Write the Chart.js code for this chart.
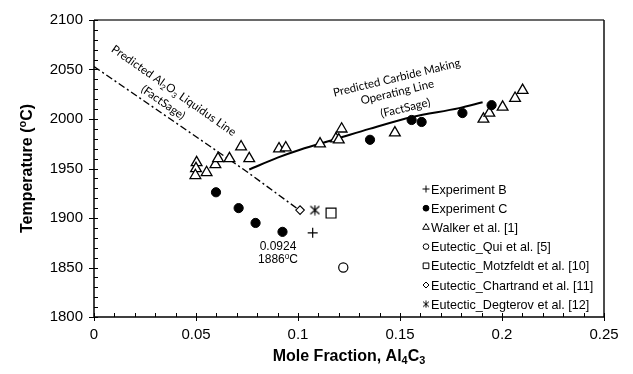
<!DOCTYPE html>
<html><head><meta charset="utf-8">
<script src="https://cdn.jsdelivr.net/npm/chart.js@4.4.1/dist/chart.umd.min.js"></script>
<style>html,body{margin:0;padding:0;background:#fff}#wrap{width:633px;height:374px}</style>
</head><body><div id="wrap"><canvas id="c" width="633" height="374"></canvas></div>
<script>
// ---- data ----
const expB_x = [0.1072];
const expB_y = [1885];
const expC_x = [0.0598, 0.0709, 0.0792, 0.0924, 0.1353, 0.1557, 0.1606, 0.1806, 0.1949];
const expC_y = [1926, 1910, 1895, 1886, 1979, 1999, 1997, 2006, 2014];
const walker_x = [0.0503, 0.0500, 0.0497, 0.0552, 0.0595, 0.0608, 0.0664, 0.0721, 0.0761, 0.0907, 0.0940, 0.1108, 0.1186, 0.1200, 0.1214, 0.1475, 0.1909, 0.1938, 0.2003, 0.2064, 0.2101];
const walker_y = [1956, 1950, 1943, 1946, 1954, 1960, 1960, 1972, 1960, 1970, 1971, 1975, 1980, 1979, 1990, 1986, 2000, 2006, 2012, 2021, 2029];
const qui_x = [0.1222];
const qui_y = [1850];
const motz_x = [0.1162];
const motz_y = [1905];
const chart_x = [0.1010];
const chart_y = [1908];
const degt_x = [0.1083];
const degt_y = [1908];
const liq_x = [0, 0.0748, 0.0993];
const liq_y = [2053, 1947, 1910];
const carb_x = [0.0761, 0.0900, 0.1010, 0.1190, 0.1350, 0.1560, 0.1790, 0.1905];
const carb_y = [1949, 1961, 1969, 1980, 1990, 2002, 2011, 2017];
const xTickVals = [0, 0.05, 0.1, 0.15, 0.2, 0.25];
const xTickLabels = ['0', '0.05', '0.1', '0.15', '0.2', '0.25'];
const yTickVals = [1800, 1850, 1900, 1950, 2000, 2050, 2100];
const yTickLabels = ['1800', '1850', '1900', '1950', '2000', '2050', '2100'];
const seriesNames = ['Experiment B', 'Experiment C', 'Walker et al. [1]', 'Eutectic_Qui et al. [5]',
  'Eutectic_Motzfeldt et al. [10]', 'Eutectic_Chartrand et al. [11]', 'Eutectic_Degterov et al. [12]'];

const pts = (xs, ys) => xs.map((v, i) => ({x: v, y: ys[i]}));

function asteriskImg(size, lw) {
  const c = document.createElement('canvas');
  c.width = c.height = size;
  const g = c.getContext('2d');
  g.strokeStyle = '#000'; g.lineWidth = lw;
  const m = size / 2;
  g.beginPath();
  g.moveTo(m, 0.5); g.lineTo(m, size - 0.5);
  g.moveTo(1, 1.5); g.lineTo(size - 1, size - 1.5);
  g.moveTo(size - 1, 1.5); g.lineTo(1, size - 1.5);
  g.stroke();
  return c;
}
const astBig = asteriskImg(11, 1.2);
const astSmall = asteriskImg(8, 1);

const SANS = '"Liberation Sans", Arial, sans-serif';
const CAL = 'Lato, "Open Sans", sans-serif';

function drawRich(ctx, parts, cx, cy, size, weight, family, align) {
  let w = 0;
  const segs = parts.map(p => {
    const s = (p.sub || p.sup) ? size * 0.68 : size;
    ctx.font = `${weight} ${s}px ${family}`;
    const m = ctx.measureText(p.t).width;
    w += m;
    return {p, s, m};
  });
  let x = align === 'left' ? cx : cx - w / 2;
  ctx.textAlign = 'left';
  ctx.textBaseline = 'alphabetic';
  const base = cy + size * 0.36;
  for (const g of segs) {
    ctx.font = `${weight} ${g.s}px ${family}`;
    let yy = base;
    if (g.p.sub) yy += size * 0.22;
    if (g.p.sup) yy -= size * 0.38;
    ctx.fillText(g.p.t, x, yy);
    x += g.m;
  }
  return w;
}

const notes = [
  {x: 0.0392, y: 2029, angle: 35, size: 11.5, parts: [{t: 'Predicted Al'}, {t: '2', sub: 1}, {t: 'O'}, {t: '3', sub: 1}, {t: ' Liquidus Line'}]},
  {x: 0.0340, y: 2017, angle: 35, size: 11.5, parts: [{t: '(FactSage)'}]},
  {x: 0.1484, y: 2042, angle: -13.5, size: 11.5, parts: [{t: 'Predicted Carbide Making'}]},
  {x: 0.1486, y: 2027.5, angle: -13.5, size: 11.5, parts: [{t: 'Operating Line'}]},
  {x: 0.1526, y: 2011.5, angle: -13.5, size: 11.5, parts: [{t: '(FactSage)'}]}
];

const legendStyles = [
  {pointStyle: 'cross', radius: 3.5, fill: false},
  {pointStyle: 'circle', radius: 2.9, fill: true},
  {pointStyle: 'triangle', radius: 3.8, fill: false},
  {pointStyle: 'circle', radius: 2.8, fill: false},
  {pointStyle: 'rect', radius: 4, fill: false},
  {pointStyle: 'rectRot', radius: 3, fill: false},
  {pointStyle: astSmall, radius: 4, fill: false}
];

const overlay = {
  id: 'overlay',
  afterDraw(chart) {
    const {ctx, chartArea: a, scales: {x, y}} = chart;
    ctx.save();
    // frame
    ctx.strokeStyle = '#6a6a6a'; ctx.lineWidth = 2;
    ctx.beginPath(); ctx.moveTo(a.left, a.top); ctx.lineTo(a.right, a.top); ctx.stroke();
    ctx.strokeStyle = '#111'; ctx.lineWidth = 1.5;
    ctx.beginPath(); ctx.moveTo(a.right, a.top); ctx.lineTo(a.right, a.bottom); ctx.stroke();
    // axes
    ctx.strokeStyle = '#000'; ctx.lineWidth = 1.5;
    ctx.beginPath(); ctx.moveTo(a.left, a.top); ctx.lineTo(a.left, a.bottom); ctx.lineTo(a.right, a.bottom); ctx.stroke();
    // ticks
    ctx.lineWidth = 1;
    ctx.beginPath();
    for (let k = 0; k <= 25; k++) {
      const px = Math.round(x.getPixelForValue(k * 0.01)) + 0.5;
      const major = k % 5 === 0;
      ctx.moveTo(px, a.bottom + (major ? 4 : 0));
      ctx.lineTo(px, a.bottom - 4);
    }
    for (let k = 0; k <= 30; k++) {
      const py = Math.round(y.getPixelForValue(1800 + k * 10)) + 0.5;
      const major = k % 5 === 0;
      ctx.moveTo(a.left - (major ? 5 : 0), py);
      ctx.lineTo(a.left + 4, py);
    }
    ctx.stroke();
    // axis titles
    ctx.fillStyle = '#000';
    drawRich(ctx, [{t: 'Mole Fraction, Al'}, {t: '4', sub: 1}, {t: 'C'}, {t: '3', sub: 1}], (a.left + a.right) / 2, 355, 16, 'bold', SANS, 'center');
    ctx.save();
    ctx.translate(26, (a.top + a.bottom) / 2);
    ctx.rotate(-Math.PI / 2);
    drawRich(ctx, [{t: 'Temperature ('}, {t: 'o', sup: 1}, {t: 'C)'}], 0, 0, 16, 'bold', SANS, 'center');
    ctx.restore();
    // annotations
    for (const n of notes) {
      ctx.save();
      ctx.translate(x.getPixelForValue(n.x), y.getPixelForValue(n.y));
      ctx.rotate(n.angle * Math.PI / 180);
      drawRich(ctx, n.parts, 0, 0, n.size, 'normal', CAL, 'center');
      ctx.restore();
    }
    const lx = x.getPixelForValue(0.0902);
    drawRich(ctx, [{t: '0.0924'}], lx, y.getPixelForValue(1872), 12, 'normal', SANS, 'center');
    drawRich(ctx, [{t: '1886'}, {t: 'o', sup: 1}, {t: 'C'}], lx, y.getPixelForValue(1858.5), 12, 'normal', SANS, 'center');
    // legend
    const mx = 426, tx = 431, y0 = 189, dy = 19.2;
    seriesNames.forEach((name, i) => {
      const st = legendStyles[i];
      const yy = y0 + i * dy;
      ctx.save();
      ctx.strokeStyle = '#000'; ctx.fillStyle = st.fill ? '#000' : '#fff'; ctx.lineWidth = 1;
      Chart.helpers.drawPoint(ctx, {pointStyle: st.pointStyle, radius: st.radius, rotation: 0, borderWidth: 1}, mx, yy);
      ctx.restore();
      ctx.fillStyle = '#000';
      drawRich(ctx, [{t: name}], tx, yy, 12.6, 'normal', SANS, 'left');
    });
    ctx.restore();
  }
};

const pointDs = (label, data, style, radius, bg, bw, order) => ({
  label, data, showLine: false, pointStyle: style, pointRadius: radius, pointHoverRadius: radius,
  pointBackgroundColor: bg, pointBorderColor: '#000', pointBorderWidth: bw, order
});

new Chart(document.getElementById('c'), {
  type: 'scatter',
  data: {
    datasets: [
      pointDs(seriesNames[0], pts(expB_x, expB_y), 'cross', 5, '#000', 1.2, 1),
      pointDs(seriesNames[1], pts(expC_x, expC_y), 'circle', 4.6, '#000', 1, 1),
      pointDs(seriesNames[2], pts(walker_x, walker_y), 'triangle', 6.2, '#fff', 1.3, 1),
      pointDs(seriesNames[3], pts(qui_x, qui_y), 'circle', 4.6, '#fff', 1.2, 1),
      pointDs(seriesNames[4], pts(motz_x, motz_y), 'rect', 7, '#fff', 1.2, 1),
      pointDs(seriesNames[5], pts(chart_x, chart_y), 'rectRot', 4.3, '#fff', 1.1, 1),
      pointDs(seriesNames[6], pts(degt_x, degt_y), astBig, 5.5, '#000', 1, 1),
      {label: 'Predicted Al2O3 Liquidus Line', data: pts(liq_x, liq_y), showLine: true, pointRadius: 0,
       borderColor: '#000', borderWidth: 1.4, borderDash: [7, 3, 2, 3], fill: false, order: 10},
      {label: 'Predicted Carbide Making Operating Line', data: pts(carb_x, carb_y), showLine: true, pointRadius: 0,
       borderColor: '#000', borderWidth: 2, cubicInterpolationMode: 'monotone', fill: false, order: 10}
    ]
  },
  options: {
    responsive: false, animation: false, devicePixelRatio: 1,
    layout: {padding: {top: 17, right: 29, left: 0, bottom: 0}},
    plugins: {legend: {display: false}, tooltip: {enabled: false}},
    scales: {
      x: {
        type: 'linear', min: 0, max: 0.25,
        afterBuildTicks(s) { s.ticks = xTickVals.map(v => ({value: v})); },
        ticks: {callback: (v, i) => xTickLabels[i], font: {family: SANS, size: 15}, color: '#000', padding: 9, maxRotation: 0, autoSkip: false},
        grid: {display: false, drawTicks: false},
        border: {display: false},
        afterFit(s) { s.height = 57; }
      },
      y: {
        type: 'linear', min: 1800, max: 2100,
        afterBuildTicks(s) { s.ticks = yTickVals.map(v => ({value: v})); },
        ticks: {callback: (v, i) => yTickLabels[i], font: {family: SANS, size: 15}, color: '#000', padding: 11, autoSkip: false},
        grid: {display: false, drawTicks: false},
        border: {display: false},
        afterFit(s) { s.width = 94; }
      }
    }
  },
  plugins: [overlay]
});
</script></body></html>
